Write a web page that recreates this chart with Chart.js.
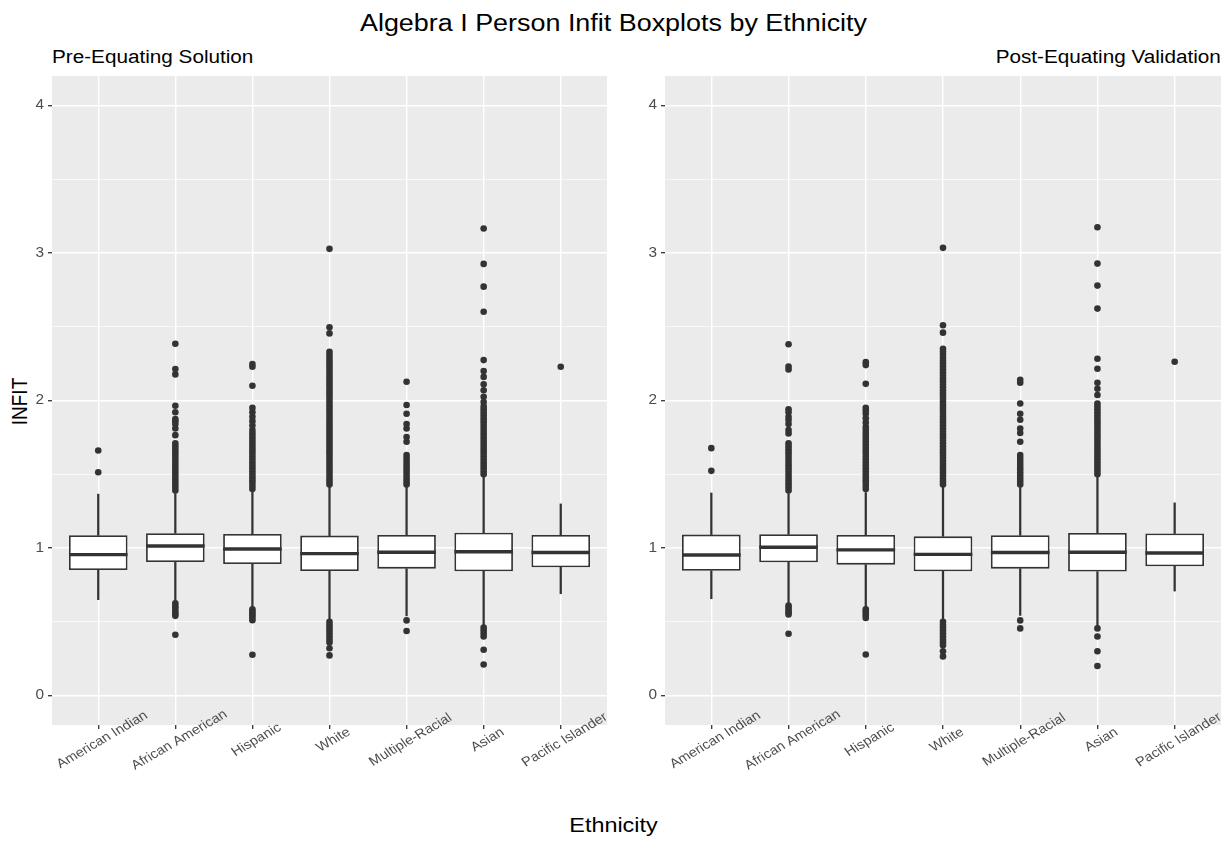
<!DOCTYPE html>
<html>
<head>
<meta charset="utf-8">
<script src="https://cdn.jsdelivr.net/npm/chart.js@4.4.0/dist/chart.umd.min.js"></script>
<style>
body{margin:0;background:#fff;font-family:"Liberation Sans",Arial,sans-serif;}
#page{position:relative;width:1227px;height:865px;overflow:hidden;background:#fff;}
.txt{position:absolute;line-height:1;white-space:nowrap;color:#000;}
.box{position:absolute;}
</style>
</head>
<body>
<div id="page">
  <div class="txt" id="title" style="left:0;width:1227px;text-align:center;top:12px;font-size:23px;transform:scaleX(1.17);">Algebra I Person Infit Boxplots by Ethnicity</div>
  <div class="txt" style="left:52px;top:48px;font-size:18px;transform:scaleX(1.15);transform-origin:left center;">Pre-Equating Solution</div>
  <div class="txt" style="right:6px;top:48px;font-size:18px;transform:scaleX(1.15);transform-origin:right center;">Post-Equating Validation</div>
  <div class="txt" style="left:-6px;top:392px;width:50px;text-align:center;font-size:19px;transform:scaleX(1.17) rotate(-90deg);">INFIT</div>
  <div class="txt" style="left:0;width:1227px;text-align:center;top:815px;font-size:20px;transform:scaleX(1.17);">Ethnicity</div>
  <div class="box" style="left:0;top:70px;width:612px;height:720px;"><canvas id="pre" width="612" height="720"></canvas></div>
  <div class="box" style="left:612px;top:70px;width:615px;height:720px;"><canvas id="post" width="615" height="720"></canvas></div>
</div>
<script>
const categories = ['American Indian', 'African American', 'Hispanic', 'White', 'Multiple-Racial', 'Asian', 'Pacific Islander'];
const yTicks = [0, 0.5, 1, 1.5, 2, 2.5, 3, 3.5, 4];

// Pre-Equating Solution
const preLower  = [0.65, 0.63, 0.59, 0.51, 0.54, 0.47, 0.69];
const preQ1     = [0.851, 0.905, 0.891, 0.844, 0.860, 0.842, 0.869];
const preMedian = [0.955, 1.014, 0.993, 0.962, 0.971, 0.975, 0.969];
const preQ3     = [1.086, 1.100, 1.095, 1.084, 1.088, 1.104, 1.088];
const preUpper  = [1.365, 1.369, 1.385, 1.419, 1.419, 1.482, 1.299];
const preOutliers = [
  [1.661, 1.514],
  [1.39, 1.41, 1.43, 1.45, 1.47, 1.49, 1.51, 1.53, 1.55, 1.57, 1.59, 1.61, 1.63, 1.65, 1.67, 1.69, 1.71,
   1.765, 1.81, 1.84, 1.86, 1.875, 1.92, 1.964, 2.177, 2.213, 2.385,
   0.625, 0.605, 0.59, 0.57, 0.555, 0.54, 0.412],
  [1.40, 1.42, 1.44, 1.46, 1.48, 1.50, 1.52, 1.54, 1.56, 1.58, 1.60, 1.62, 1.64, 1.66, 1.68, 1.70, 1.72, 1.74, 1.76, 1.78, 1.80,
   1.83, 1.86, 1.89, 1.92, 1.95, 2.10, 2.229, 2.247,
   0.585, 0.57, 0.555, 0.54, 0.525, 0.51, 0.276],
  [1.43, 1.45, 1.47, 1.49, 1.51, 1.53, 1.55, 1.57, 1.59, 1.61, 1.63, 1.65, 1.67, 1.69, 1.71, 1.73, 1.75, 1.77, 1.79,
   1.81, 1.83, 1.85, 1.87, 1.89, 1.91, 1.93, 1.95, 1.97, 1.99, 2.01, 2.03, 2.05, 2.07, 2.09, 2.11, 2.13, 2.15, 2.17,
   2.19, 2.21, 2.23, 2.25, 2.27, 2.29, 2.31, 2.33, 2.455, 2.496, 3.028,
   0.50, 0.48, 0.46, 0.44, 0.42, 0.40, 0.38, 0.36, 0.32, 0.272],
  [1.43, 1.45, 1.47, 1.49, 1.51, 1.53, 1.55, 1.57, 1.59, 1.61, 1.63,
   1.72, 1.753, 1.81, 1.84, 1.91, 1.969, 2.127,
   0.509, 0.437],
  [1.50, 1.52, 1.54, 1.56, 1.58, 1.60, 1.62, 1.64, 1.66, 1.68, 1.70, 1.72, 1.74, 1.76, 1.78, 1.80, 1.82, 1.84, 1.86,
   1.88, 1.90, 1.92, 1.94, 1.96, 1.99, 2.025, 2.07, 2.11, 2.16, 2.20, 2.274, 2.602, 2.772, 2.926, 3.166,
   0.46, 0.44, 0.42, 0.40, 0.31, 0.21],
  [2.229]
];

// Post-Equating Validation
const postLower  = [0.656, 0.618, 0.588, 0.509, 0.543, 0.453, 0.708];
const postQ1     = [0.846, 0.903, 0.887, 0.842, 0.860, 0.840, 0.876];
const postMedian = [0.953, 1.005, 0.987, 0.957, 0.969, 0.971, 0.966];
const postQ3     = [1.091, 1.093, 1.088, 1.079, 1.086, 1.102, 1.098];
const postUpper  = [1.373, 1.369, 1.376, 1.414, 1.410, 1.480, 1.306];
const postOutliers = [
  [1.677, 1.523],
  [1.39, 1.41, 1.43, 1.45, 1.47, 1.49, 1.51, 1.53, 1.55, 1.57, 1.59, 1.61, 1.63, 1.65, 1.67, 1.69, 1.71,
   1.777, 1.80, 1.84, 1.867, 1.89, 1.92, 1.94, 2.21, 2.23, 2.381,
   0.61, 0.595, 0.58, 0.565, 0.55, 0.419],
  [1.40, 1.42, 1.44, 1.46, 1.48, 1.50, 1.52, 1.54, 1.56, 1.58, 1.60, 1.62, 1.64, 1.66, 1.68, 1.70, 1.72, 1.74, 1.76, 1.78, 1.80, 1.82,
   1.85, 1.88, 1.91, 1.93, 1.95, 2.113, 2.24, 2.26,
   0.585, 0.57, 0.555, 0.54, 0.525, 0.278],
  [1.43, 1.45, 1.47, 1.49, 1.51, 1.53, 1.55, 1.57, 1.59, 1.61, 1.63, 1.65, 1.67, 1.69, 1.71, 1.73, 1.75, 1.77, 1.79,
   1.81, 1.83, 1.85, 1.87, 1.89, 1.91, 1.93, 1.95, 1.97, 1.99, 2.01, 2.03, 2.05, 2.07, 2.09, 2.11, 2.13, 2.15, 2.17,
   2.19, 2.21, 2.23, 2.25, 2.27, 2.29, 2.31, 2.33, 2.35, 2.46, 2.51, 3.035,
   0.50, 0.48, 0.46, 0.44, 0.42, 0.40, 0.38, 0.36, 0.34, 0.30, 0.265],
  [1.43, 1.45, 1.47, 1.49, 1.51, 1.53, 1.55, 1.57, 1.59, 1.61, 1.63,
   1.72, 1.78, 1.81, 1.87, 1.91, 1.98, 2.12, 2.14,
   0.509, 0.455],
  [1.50, 1.52, 1.54, 1.56, 1.58, 1.60, 1.62, 1.64, 1.66, 1.68, 1.70, 1.72, 1.74, 1.76, 1.78, 1.80, 1.82, 1.84, 1.86,
   1.88, 1.90, 1.92, 1.94, 1.96, 1.98, 2.037, 2.08, 2.12, 2.215, 2.283, 2.623, 2.779, 2.928, 3.175,
   0.455, 0.40, 0.30, 0.20],
  [2.263]
];

const stretch = 1.12;
const ink = '#333333';
const boxFrac = 0.76;

// grey panel behind the grid, like ggplot
const panelBg = {
  id: 'panelBg',
  beforeDraw(chart) {
    const a = chart.chartArea;
    const c = chart.ctx;
    c.save();
    c.fillStyle = '#EBEBEB';
    c.fillRect(a.left, a.top, a.width, a.height);
    c.restore();
  }
};

// tick labels, slanted on x
const axisText = {
  id: 'axisText',
  afterDraw(chart) {
    const c = chart.ctx, a = chart.chartArea;
    const xs = chart.scales.x, ys = chart.scales.y;
    c.save();
    c.fillStyle = '#4D4D4D';
    c.font = '13px "Liberation Sans", Arial, sans-serif';
    c.textAlign = 'center';
    c.textBaseline = 'middle';
    categories.forEach(function(lab, i) {
      c.save();
      c.translate(xs.getPixelForValue(i) + 4, a.bottom + 15);
      c.scale(stretch, 1);
      c.rotate(-Math.PI * 33 / 180);
      c.fillText(lab, 0, 0);
      c.restore();
    });
    c.font = '14px "Liberation Sans", Arial, sans-serif';
    c.textAlign = 'right';
    ys.ticks.forEach(function(t) {
      if (t.value % 1 !== 0) return;
      c.save();
      c.translate(a.left - 8, ys.getPixelForValue(t.value));
      c.scale(1.1, 1);
      c.fillText(String(t.value), 0, 0);
      c.restore();
    });
    c.restore();
  }
};

function halfBox(ctx) {
  const xs = ctx.chart.scales.x;
  if (!xs) return 0;
  return Math.abs(xs.getPixelForValue(1) - xs.getPixelForValue(0)) * boxFrac / 2;
}

function buildChart(id, lower, q1, median, q3, upper, outliers, axisWidth, padRight) {
  const pts = [];
  outliers.forEach(function(list, i) {
    list.forEach(function(v) { pts.push({x: i, y: v}); });
  });
  const ctx = document.getElementById(id).getContext('2d');
  return new Chart(ctx, {
    type: 'bar',
    data: {
      datasets: [
        {
          label: 'upper whisker',
          data: q3.map((v, i) => ({x: i, y: [v, upper[i]]})),
          backgroundColor: ink,
          borderWidth: 0,
          barThickness: 1.6,
          grouped: false,
          order: 5
        },
        {
          label: 'lower whisker',
          data: q1.map((v, i) => ({x: i, y: [lower[i], v]})),
          backgroundColor: ink,
          borderWidth: 0,
          barThickness: 1.6,
          grouped: false,
          order: 4
        },
        {
          label: 'box',
          data: q1.map((v, i) => ({x: i, y: [v, q3[i]]})),
          backgroundColor: '#FFFFFF',
          borderColor: ink,
          borderWidth: 1.8,
          borderSkipped: false,
          barPercentage: boxFrac,
          categoryPercentage: 1,
          grouped: false,
          order: 3
        },
        {
          type: 'line',
          label: 'median',
          data: median.map((v, i) => ({x: i, y: v})),
          showLine: false,
          pointStyle: 'line',
          pointRadius: halfBox,
          pointBorderWidth: 3.4,
          pointBorderColor: ink,
          order: 2
        },
        {
          type: 'line',
          label: 'outliers',
          data: pts,
          showLine: false,
          pointRadius: 3.3,
          pointBackgroundColor: ink,
          pointBorderWidth: 0,
          order: 1
        }
      ]
    },
    options: {
      responsive: false,
      animation: false,
      events: [],
      layout: {padding: {top: 6, right: padRight, left: 0, bottom: 0}},
      plugins: {legend: {display: false}, tooltip: {enabled: false}, title: {display: false}},
      scales: {
        x: {
          type: 'linear',
          min: -0.6,
          max: 6.6,
          offset: false,
          afterBuildTicks: function(s) { s.ticks = categories.map((c, i) => ({value: i})); },
          afterFit: function(s) { s.height = 65; },
          ticks: {display: false},
          border: {display: false},
          grid: {offset: false, color: '#FFFFFF', lineWidth: 1.4, tickColor: ink, tickLength: 4, tickWidth: 1.3}
        },
        y: {
          type: 'linear',
          min: -0.2,
          max: 4.2,
          afterBuildTicks: function(s) { s.ticks = yTicks.map(v => ({value: v})); },
          afterFit: function(s) { s.width = axisWidth; },
          ticks: {display: false},
          border: {display: false},
          grid: {
            color: '#FFFFFF',
            lineWidth: c => (c.tick && c.tick.value % 1 === 0) ? 1.4 : 0.7,
            tickColor: c => (c.tick && c.tick.value % 1 === 0) ? ink : 'rgba(0,0,0,0)',
            tickLength: 4,
            tickWidth: 1.3
          }
        }
      }
    },
    plugins: [panelBg, axisText]
  });
}

buildChart('pre', preLower, preQ1, preMedian, preQ3, preUpper, preOutliers, 52, 5);
buildChart('post', postLower, postQ1, postMedian, postQ3, postUpper, postOutliers, 53, 6);
</script>
</body>
</html>
